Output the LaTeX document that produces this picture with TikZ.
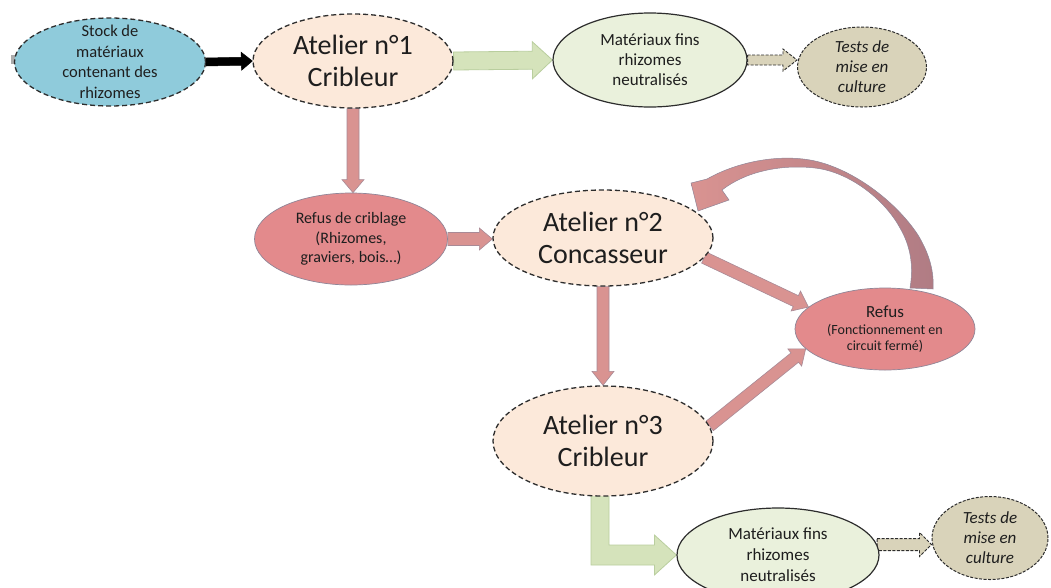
\documentclass[tikz,border=0pt]{standalone}
\usepackage{fontspec}
\setmainfont{Carlito}
\usetikzlibrary{shapes.geometric,calc}
\pgfdeclarelayer{bg}
\pgfsetlayers{bg,main}
\definecolor{stockc}{RGB}{143,203,219}
\definecolor{atelc}{RGB}{252,233,218}
\definecolor{matc}{RGB}{234,241,220}
\definecolor{testc}{RGB}{217,211,186}
\definecolor{refc}{RGB}{227,138,140}
\definecolor{refb}{RGB}{143,133,151}
\definecolor{pinkA}{RGB}{217,147,145}
\definecolor{pinkB}{RGB}{168,138,150}
\definecolor{pinkD}{RGB}{176,124,132}
\definecolor{greenA}{RGB}{213,227,187}
\definecolor{greenB}{RGB}{185,206,158}
\definecolor{txt}{RGB}{30,30,30}
\definecolor{dashc}{RGB}{45,45,45}
\newcommand\blockarr[6]{%
  \coordinate (bas) at (#2);
  \coordinate (bae) at (#3);
  \coordinate (bac) at ($(bae)!#6!(bas)$);
  \path[#1] ($(bas)!#4!90:(bae)$) -- ($(bac)!#4!90:(bae)$) -- ($(bac)!#5!90:(bae)$)
    -- (bae) -- ($(bac)!#5!-90:(bae)$) -- ($(bac)!#4!-90:(bae)$) -- ($(bas)!#4!-90:(bae)$) -- cycle;
}
\tikzset{
  ell/.style={ellipse, inner sep=-10pt, align=center, text=txt},
  dell/.style={ell, draw=dashc, line width=1.3pt, dash pattern=on 5pt off 3pt},
  sell/.style={ell, draw=dashc, line width=1.2pt},
  rell/.style={ell, draw=refb, line width=0.7pt, fill=refc},
  big/.style={font=\fontsize{28}{32}\selectfont},
  small/.style={font=\fontsize{16.5}{20.5}\selectfont},
  blackarr/.style={fill=black, draw=black, line width=0.5pt},
  greenarr/.style={fill=greenA, draw=greenB, line width=0.8pt, line join=miter},
  pinkarr/.style={fill=pinkA, draw=pinkB, line width=0.6pt},
  tanarr/.style={fill=testc, draw=dashc, line width=0.9pt, dash pattern=on 3pt off 1.5pt},
}
\begin{document}
\begin{tikzpicture}[x=1pt, y=-1pt]
\useasboundingbox (0,0) rectangle (1051,587);
% nodes
\node[dell, fill=stockc, minimum width=191pt, minimum height=88pt, small] (stock) at (110,62)
  {Stock de\\matériaux\\contenant des\\rhizomes};
\node[dell, fill=atelc, minimum width=200pt, minimum height=94pt, big] (at1) at (353,61)
  {Atelier n°1\\Cribleur};
\node[sell, fill=matc, minimum width=194pt, minimum height=94pt, font=\fontsize{17}{20}\selectfont] (mat1) at (650,60)
  {Matériaux fins\\rhizomes\\neutralisés};
\node[dell, fill=testc, minimum width=129pt, minimum height=80pt, font=\fontsize{17}{20}\selectfont\itshape, line width=1pt, dash pattern=on 3pt off 1.5pt] (tests1) at (862,67)
  {Tests de\\mise en\\culture};
\node[rell, minimum width=193pt, minimum height=92pt, font=\fontsize{16}{19.5}\selectfont] (refcrib) at (351,239)
  {Refus de criblage\\(Rhizomes,\\graviers, bois…)};
\node[dell, fill=atelc, minimum width=220pt, minimum height=96pt, big] (at2) at (603,238)
  {Atelier n°2\\Concasseur};
\node[rell, minimum width=180pt, minimum height=82pt, font=\fontsize{14}{16}\selectfont] (refus) at (885,329)
  {{\fontsize{17}{19}\selectfont Refus}\\[1pt](Fonctionnement en\\circuit fermé)};
\node[dell, fill=atelc, minimum width=220pt, minimum height=110pt, big] (at3) at (603,441)
  {Atelier n°3\\Cribleur};
\node[sell, fill=matc, minimum width=202pt, minimum height=94pt, font=\fontsize{17}{21}\selectfont] (mat2) at (778,555)
  {Matériaux fins\\rhizomes\\neutralisés};
\node[dell, fill=testc, minimum width=116pt, minimum height=83pt, font=\fontsize{17}{20}\selectfont\itshape, line width=1pt, dash pattern=on 3pt off 1.5pt] (tests2) at (990,538)
  {Tests de\\mise en\\culture};
% connectors
\begin{pgfonlayer}{bg}
\fill[white] (0,0) rectangle (1051,587);
\fill[gray!65] (11,55) rectangle (16,64);
\blockarr{blackarr}{stock.east}{at1.west}{4pt}{9pt}{11pt}
\blockarr{greenarr}{at1.east}{mat1.west}{9pt}{18.5pt}{20pt}
\blockarr{tanarr}{mat1.east}{mat1.east -| tests1.west}{5pt}{11pt}{14pt}
\blockarr{pinkarr}{at1.south}{at1.south |- refcrib.north}{6pt}{11pt}{13pt}
\blockarr{pinkarr}{refcrib.east}{refcrib.east -| at2.west}{6.5pt}{11pt}{13pt}
\blockarr{pinkarr}{at2.-11}{refus.164}{6pt}{11pt}{14pt}
\blockarr{pinkarr}{at2.south}{at3.north}{6pt}{11pt}{14pt}
\blockarr{pinkarr}{at3.8}{refus.194}{6pt}{11pt}{14pt}
\blockarr{tanarr}{mat2.6}{mat2.6 -| tests2.west}{6pt}{12pt}{12pt}
% L-shaped green arrow from Atelier 3 to Materiaux fins
\path[greenarr] let \p1=(at3.south), \p2=(mat2.west) in
  (\x1-12pt,\y1+4pt) -- (\x1-12pt,\y2-10pt) -- (\x2-22pt,\y2-10pt) -- (\x2-22pt,\y2-20pt)
  -- (\x2,\y2) -- (\x2-22pt,\y2+20pt) -- (\x2-22pt,\y2+10pt) -- (\x1+6pt,\y2+10pt)
  -- (\x1+6pt,\y1+4pt) -- cycle;
% curved return arrow from Refus to Atelier 2
\shadedraw[left color=pinkA, right color=pinkD, draw=refb, line width=0.5pt]
  (698,211) -- (691,183) -- (707,179)
  .. controls (735,163) and (775,154) .. (810,160)
  .. controls (850,167) and (895,200) .. (918,235)
  .. controls (930,255) and (934,272) .. (933,289)
  -- (910,288)
  .. controls (914,265) and (910,245) .. (900,228)
  .. controls (885,200) and (850,172) .. (815,168)
  .. controls (780,164) and (745,172) .. (722,190)
  -- (729,200) -- cycle;
\end{pgfonlayer}
\end{tikzpicture}
\end{document}
